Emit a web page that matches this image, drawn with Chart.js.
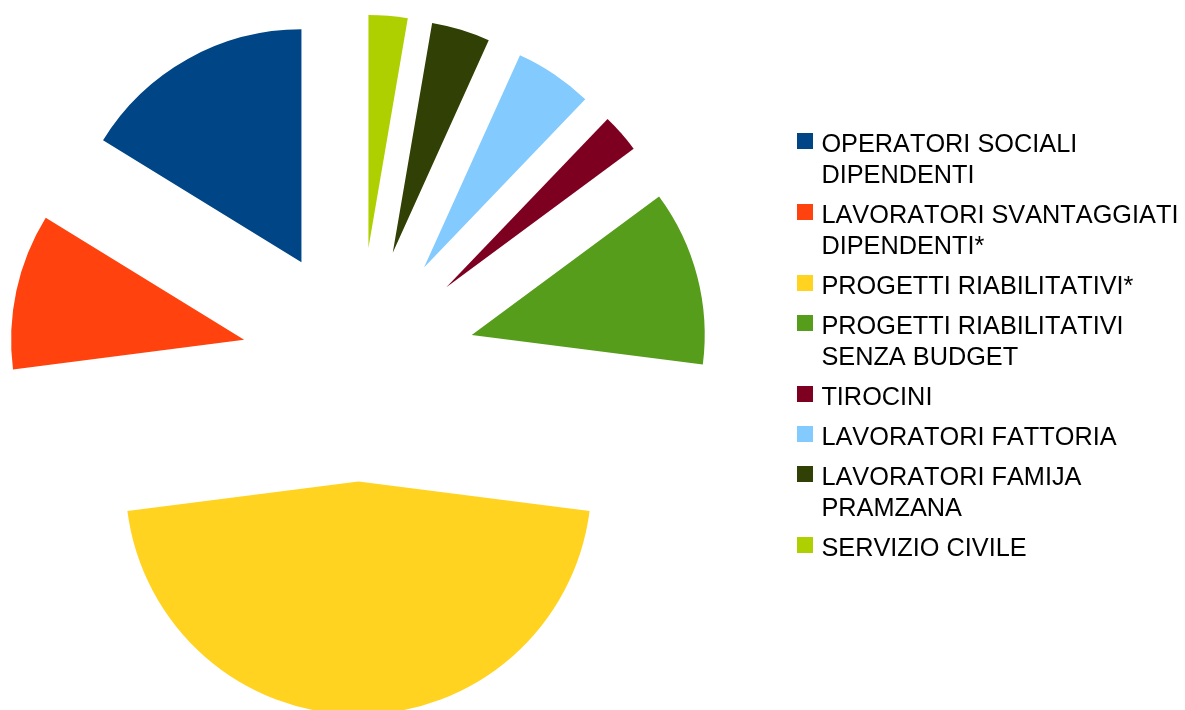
<!DOCTYPE html>
<html>
<head>
<meta charset="utf-8">
<script src="https://cdn.jsdelivr.net/npm/chart.js@4/dist/chart.umd.min.js"></script>
<style>
    body { margin: 0; background: #fff; }
    #wrap { position: relative; width: 1185px; height: 710px; overflow: hidden; }
    #legend {
        position: absolute; left: 797px; top: 127.5px;
        font-family: "Liberation Sans", Arial, sans-serif; font-size: 25.3px;
        font-kerning: none; line-height: 31px; color: #000;
    }
    .item { display: flex; align-items: flex-start; margin-bottom: 9px; }
    .box { width: 16px; height: 16px; margin-top: 5.8px; margin-right: 8.4px; flex: none; }
    .txt div { white-space: nowrap; }
</style>
</head>
<body>
<div id="wrap">
    <canvas id="pieChart"></canvas>
    <div id="legend"></div>
</div>
<script>
// categories, in legend order (each entry = lines of the label)
const categories = [
    ['OPERATORI SOCIALI', 'DIPENDENTI'],
    ['LAVORATORI SVANTAGGIATI', 'DIPENDENTI*'],
    ['PROGETTI RIABILITATIVI*'],
    ['PROGETTI RIABILITATIVI', 'SENZA BUDGET'],
    ['TIROCINI'],
    ['LAVORATORI FATTORIA'],
    ['LAVORATORI FAMIJA', 'PRAMZANA'],
    ['SERVIZIO CIVILE']
];
const counts = [12, 8, 34, 9, 2, 4, 3, 2];
const sliceColors = ['#004586', '#ff420e', '#ffd320', '#579d1c', '#7e0021', '#83caff', '#314004', '#aecf00'];

const EXPLODE = 117; // distance each slice is pulled out of the centre

// the original runs counter-clockwise from 12 o'clock, Chart.js runs clockwise
const pieLabels = categories.map(c => c.join(' ')).reverse();
const pieData = counts.slice().reverse();
const pieColors = sliceColors.slice().reverse();

// draw every arc shifted along its own bisector
const explodePlugin = {
    id: 'explode',
    beforeDatasetDraw(chart, args) {
        const ctx = chart.ctx;
        args.meta.data.forEach(arc => {
            const mid = (arc.startAngle + arc.endAngle) / 2;
            ctx.save();
            ctx.translate(Math.cos(mid) * EXPLODE, Math.sin(mid) * EXPLODE);
            arc.draw(ctx);
            ctx.restore();
        });
        return false;
    }
};

const canvas = document.getElementById('pieChart');
if (canvas) {
    const ctx = canvas.getContext('2d');
    const pieChart = new Chart(ctx, {
        type: 'pie',
        data: {
            labels: pieLabels,
            datasets: [{
                data: pieData,
                backgroundColor: pieColors,
                borderWidth: 0,
                radius: 233
            }]
        },
        options: {
            responsive: true,
            maintainAspectRatio: false,
            animation: false,
            layout: { padding: { top: 19, right: 468, left: 0, bottom: 0 } },
            plugins: {
                legend: { display: false },
                tooltip: { enabled: false }
            }
        },
        plugins: [explodePlugin]
    });
} else {
    console.error('Canvas element not found');
}

// legend built from the same arrays
const legend = document.getElementById('legend');
categories.forEach((lines, i) => {
    const item = document.createElement('div');
    item.className = 'item';
    const box = document.createElement('div');
    box.className = 'box';
    box.style.background = sliceColors[i];
    const txt = document.createElement('div');
    txt.className = 'txt';
    lines.forEach(line => {
        const l = document.createElement('div');
        l.textContent = line;
        txt.appendChild(l);
    });
    item.appendChild(box);
    item.appendChild(txt);
    legend.appendChild(item);
});
</script>
</body>
</html>
